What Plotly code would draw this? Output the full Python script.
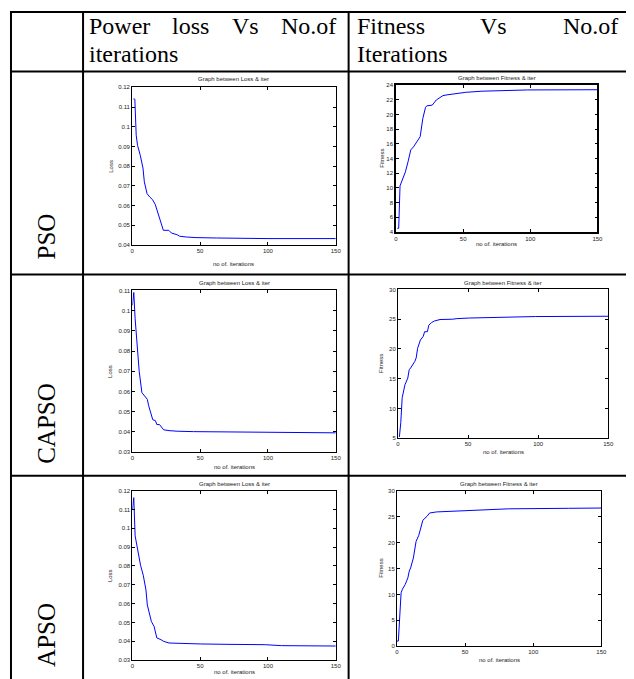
import plotly.graph_objects as go

# ---------------- data ----------------
row_labels = ["PSO", "CAPSO", "APSO"]
header_left_words = ["Power", "loss", "Vs", "No.of"]
header_left_line2 = "iterations"
header_right_words = ["Fitness", "Vs", "No.of"]
header_right_line2 = "Iterations"

loss_title = "Graph between Loss & iter"
fit_title = "Graph between Fitness & iter"
x_label = "no of. iterations"
loss_ylabel = "Loss"
fit_ylabel = "Fitness"

iter_ticks = [0, 50, 100, 150]

# PSO
pso_loss_iter = [1, 2, 3, 4, 6, 8, 9, 11, 13, 15, 17, 19, 21, 23, 27, 29, 33, 35, 40, 47, 62, 80, 100, 150]
pso_loss_val = [0.1141, 0.1140, 0.0957, 0.0905, 0.0855, 0.0790, 0.0720, 0.0660, 0.0643, 0.0630, 0.0606,
                0.0565, 0.0515, 0.0474, 0.0474, 0.0460, 0.0452, 0.0444, 0.0440, 0.0437, 0.0435, 0.0433,
                0.0432, 0.0432]
pso_fit_iter = [1, 2, 3, 4, 5, 7, 9, 11, 13, 15, 18, 20, 22, 23, 27, 30, 32, 35, 38, 45, 52, 64, 81, 98, 150]
pso_fit_val = [4.5, 4.5, 10.3, 10.8, 11.2, 12.2, 13.6, 15.2, 15.6, 16.1, 17.0, 19.5, 21.0, 21.2, 21.3, 22.0,
               22.2, 22.6, 22.7, 22.9, 23.05, 23.2, 23.28, 23.37, 23.4]

# CAPSO
capso_loss_iter = [0, 1, 2, 3, 4, 5, 7, 8, 10, 11, 12, 13, 15, 17, 18, 20, 23, 27, 33, 45, 62, 74, 98, 150]
capso_loss_val = [0.1026, 0.1090, 0.0960, 0.0870, 0.0790, 0.0700, 0.0594, 0.0586, 0.0569, 0.0561, 0.0529,
                  0.0504, 0.0460, 0.0455, 0.0436, 0.0436, 0.0410, 0.0406, 0.0403, 0.0401, 0.0400, 0.0398,
                  0.0396, 0.0395]
capso_fit_iter = [1, 2, 3, 5, 7, 8, 9, 12, 13, 14, 16, 18, 19, 21, 22, 24, 26, 30, 39, 42, 51, 65, 84, 98, 150]
capso_fit_val = [5.2, 7.6, 11.8, 14.0, 15.1, 16.5, 16.8, 17.9, 18.5, 20.1, 21.5, 22.1, 22.9, 22.9, 24.0,
                 24.45, 24.7, 24.95, 25.0, 25.1, 25.2, 25.3, 25.4, 25.45, 25.5]

# APSO
apso_loss_iter = [0, 1, 2, 4, 5, 6, 8, 9, 10, 11, 14, 16, 17, 18, 21, 23, 27, 37, 50, 69, 98, 110, 150]
apso_loss_val = [0.1102, 0.1163, 0.0960, 0.0880, 0.0856, 0.0804, 0.0751, 0.0716, 0.0672, 0.0593, 0.0505,
                 0.0479, 0.0453, 0.0418, 0.0409, 0.0400, 0.0391, 0.0388, 0.0386, 0.0384, 0.0382, 0.0377,
                 0.0375]
apso_fit_iter = [0, 1, 3, 4, 6, 8, 9, 10, 12, 14, 16, 17, 19, 22, 24, 29, 44, 56, 68, 82, 126, 150]
apso_fit_val = [1.0, 1.0, 10.3, 11.0, 11.9, 13.2, 14.5, 15.1, 17.0, 20.2, 21.4, 22.4, 24.3, 25.05, 25.7,
                25.9, 26.1, 26.3, 26.45, 26.5, 26.6, 26.65]

pso_loss_ticks = [0.04, 0.05, 0.06, 0.07, 0.08, 0.09, 0.1, 0.11, 0.12]
capso_loss_ticks = [0.03, 0.04, 0.05, 0.06, 0.07, 0.08, 0.09, 0.1, 0.11]
apso_loss_ticks = [0.03, 0.04, 0.05, 0.06, 0.07, 0.08, 0.09, 0.1, 0.11, 0.12]
pso_fit_ticks = [4, 6, 8, 10, 12, 14, 16, 18, 20, 22, 24]
capso_fit_ticks = [5, 10, 15, 20, 25, 30]
apso_fit_ticks = [0, 5, 10, 15, 20, 25, 30]

# ---------------- layout helpers ----------------
# page body has an 8px margin, so the figure is drawn 8px in from the top-left
OFF = 8
W, H = 634 - OFF, 679 - OFF


def px(x):
    return (x - OFF) / W


def py(y):
    return 1 - (y - OFF) / H


SMALL = dict(family="Liberation Sans, Arial", size=6, color="#222")
SERIF = "Liberation Serif, Times New Roman"

panels = [
    (pso_loss_iter, pso_loss_val, pso_loss_ticks, (131.7, 338, 85, 244), 77, 263, 110, loss_ylabel, loss_title, 1),
    (pso_fit_iter, pso_fit_val, pso_fit_ticks, (399, 603, 83, 231), 76, 243, 384, fit_ylabel, fit_title, 1.5),
    (capso_loss_iter, capso_loss_val, capso_loss_ticks, (132, 338, 290, 453), 282, 468, 110, loss_ylabel, loss_title, 1),
    (capso_fit_iter, capso_fit_val, capso_fit_ticks, (401, 614, 289, 439), 282, 453, 384, fit_ylabel, fit_title, 1),
    (apso_loss_iter, apso_loss_val, apso_loss_ticks, (132, 338, 492, 663), 485, 675, 110, loss_ylabel, loss_title, 1),
    (apso_fit_iter, apso_fit_val, apso_fit_ticks, (400, 607, 492, 649), 485, 663, 384, fit_ylabel, fit_title, 1),
]

fig = go.Figure()
annotations = []
layout = {}

for i, (xs, ys, yt, box, ty, xly, ylx, ylab, ttl, lw) in enumerate(panels, start=1):
    l, r, t, b = box
    xa = "x" if i == 1 else f"x{i}"
    ya = "y" if i == 1 else f"y{i}"
    fig.add_trace(go.Scatter(x=xs, y=ys, mode="lines", xaxis=xa, yaxis=ya,
                             line=dict(color="#0000ff", width=1), showlegend=False,
                             hoverinfo="skip"))
    common = dict(showline=True, linecolor="black", linewidth=lw, mirror="ticks",
                  ticks="inside", ticklen=3, tickcolor="black", tickwidth=1,
                  showgrid=False, zeroline=False, tickfont=SMALL, fixedrange=True)
    layout["xaxis" if i == 1 else f"xaxis{i}"] = dict(
        domain=[px(l), px(r)], anchor=ya, range=[0, 150], tickvals=iter_ticks,
        ticktext=[str(v) for v in iter_ticks], **common)
    layout["yaxis" if i == 1 else f"yaxis{i}"] = dict(
        domain=[py(b), py(t)], anchor=xa, range=[yt[0], yt[-1]], tickvals=yt,
        ticktext=[f"{v:g}" for v in yt], **common)
    cx = (l + r) / 2
    annotations.append(dict(text=ttl, x=px(cx), y=py(ty), xref="paper", yref="paper",
                            showarrow=False, font=SMALL, xanchor="center", yanchor="middle"))
    annotations.append(dict(text=x_label, x=px(cx), y=py(xly), xref="paper", yref="paper",
                            showarrow=False, font=SMALL, xanchor="center", yanchor="middle"))
    annotations.append(dict(text=ylab, x=px(ylx), y=py((t + b) / 2), xref="paper", yref="paper",
                            showarrow=False, font=SMALL, textangle=-90,
                            xanchor="center", yanchor="middle"))

# ---------------- table text ----------------
HFONT = dict(family=SERIF, size=24, color="black")
L1, L2 = 23, 51
left_x = [86, 170.4, 230.8, 280.6]
for w, xx in zip(header_left_words, left_x):
    annotations.append(dict(text=w, x=px(xx), y=py(L1), xref="paper", yref="paper",
                            showarrow=False, font=HFONT, xanchor="left", yanchor="middle"))
annotations.append(dict(text=header_left_line2, x=px(86), y=py(L2), xref="paper", yref="paper",
                        showarrow=False, font=HFONT, xanchor="left", yanchor="middle"))
right_x = [357, 482.5, 565.7]
for w, xx in zip(header_right_words, right_x):
    annotations.append(dict(text=w, x=px(xx), y=py(L1), xref="paper", yref="paper",
                            showarrow=False, font=HFONT, xanchor="left", yanchor="middle"))
annotations.append(dict(text=header_right_line2, x=px(357), y=py(L2), xref="paper", yref="paper",
                        showarrow=False, font=HFONT, xanchor="left", yanchor="middle"))

row_centers = [236, 424, 638]
for lab, yc in zip(row_labels, row_centers):
    annotations.append(dict(text=lab, x=px(45), y=py(yc), xref="paper", yref="paper",
                            showarrow=False, font=dict(family=SERIF, size=25, color="black"),
                            textangle=-90, xanchor="center", yanchor="middle"))

# ---------------- table lines ----------------
shapes = []
LW = 2
for xv in [9, 82, 351]:
    shapes.append(dict(type="line", xref="paper", yref="paper", x0=px(xv), x1=px(xv),
                       y0=py(8), y1=py(700), line=dict(color="black", width=LW)))
for yv in [9, 69, 274, 477]:
    shapes.append(dict(type="line", xref="paper", yref="paper", x0=px(8), x1=px(650),
                       y0=py(yv), y1=py(yv), line=dict(color="black", width=LW)))

fig.update_layout(width=W, height=H, margin=dict(l=0, r=0, t=0, b=0),
                  paper_bgcolor="white", plot_bgcolor="white",
                  annotations=annotations, shapes=shapes, showlegend=False, **layout)

fig.write_html("out.html")
